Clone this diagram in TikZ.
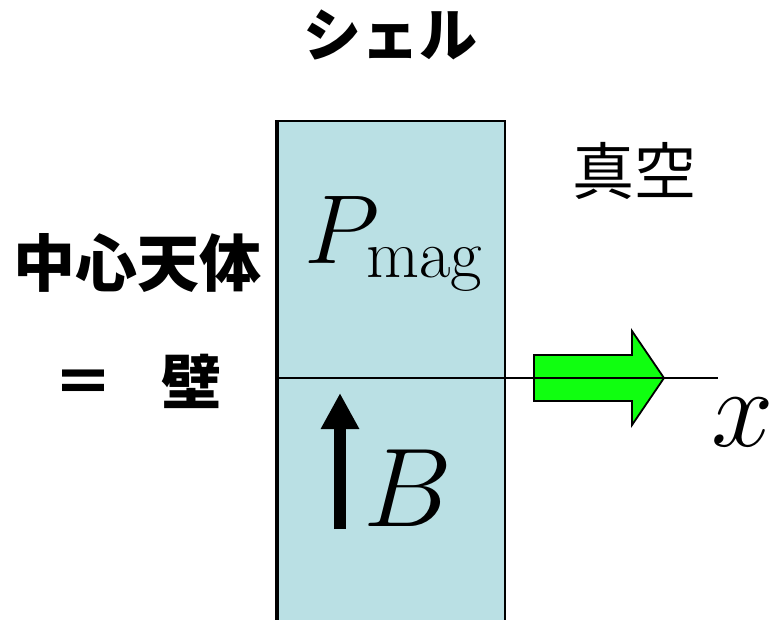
\documentclass[tikz,border=0pt]{standalone}
\usepackage{fix-cm}
\usepackage{fontspec}
\newfontfamily\jpfont{Noto Sans CJK JP}
\usetikzlibrary{positioning, arrows.meta, calc}
\definecolor{shellcyan}{RGB}{186,224,228}
\definecolor{flowgreen}{RGB}{16,255,16}

\begin{document}
\begin{tikzpicture}[
    x = 1pt, y = -1pt,
    jp/.style={font=\jpfont\bfseries\fontsize{#1}{#1}\selectfont, inner sep=0pt},
    jplight/.style={font=\jpfont\fontsize{#1}{#1}\selectfont, inner sep=0pt},
    sym/.style={font=\fontsize{#1}{#1}\selectfont, inner sep=0pt, anchor=base west},
    shell/.style={fill=shellcyan, draw, line width=2pt, minimum width=227pt, minimum height=500pt, inner sep=0pt},
    wall/.style={line width=4.5pt},
    flow/.style={fill=flowgreen, draw, line width=1.8pt, line join=miter}
]
\useasboundingbox (0,0) rectangle (781,619);

% --- Shell and wall ---
\node[shell] (shell) at (391.5,371) {};
\draw[wall] (shell.north west) -- (shell.south west);

% --- Labels ---
\node[jp=58] (shellname) at (390,35) {シェル};
\node[jplight=62] (vacuum) at (634,171) {真空};
\node[jp=62] (star) at (137,263) {中心天体};
\node[jp=60] (wallname) at (137,381) {＝\hspace{0.8em}壁};

% --- Flow arrow and x axis ---
\coordinate (origin) at (278,378);
\coordinate (xend) at (718,378);
\draw[flow] (534,355) -- (632,355) -- (632,331) -- (664,378)
    -- (632,425) -- (632,401) -- (534,401) -- cycle;
\draw[line width=1.5pt] (origin) -- (xend);
\node[sym=112] (xlabel) at (711,446) {$x$};

% --- Field and pressure ---
\coordinate (bbot) at (340,529);
\coordinate (btop) at (340,393);
\draw[line width=12pt, -{Triangle[length=36pt, width=36pt]}] (bbot) -- (btop);
\node[sym=112] (blabel) at (363,526) {$B$};
\node[sym=98] (pmag) at (304,263) {$P_{\mathrm{mag}}$};

\end{tikzpicture}
\end{document}
